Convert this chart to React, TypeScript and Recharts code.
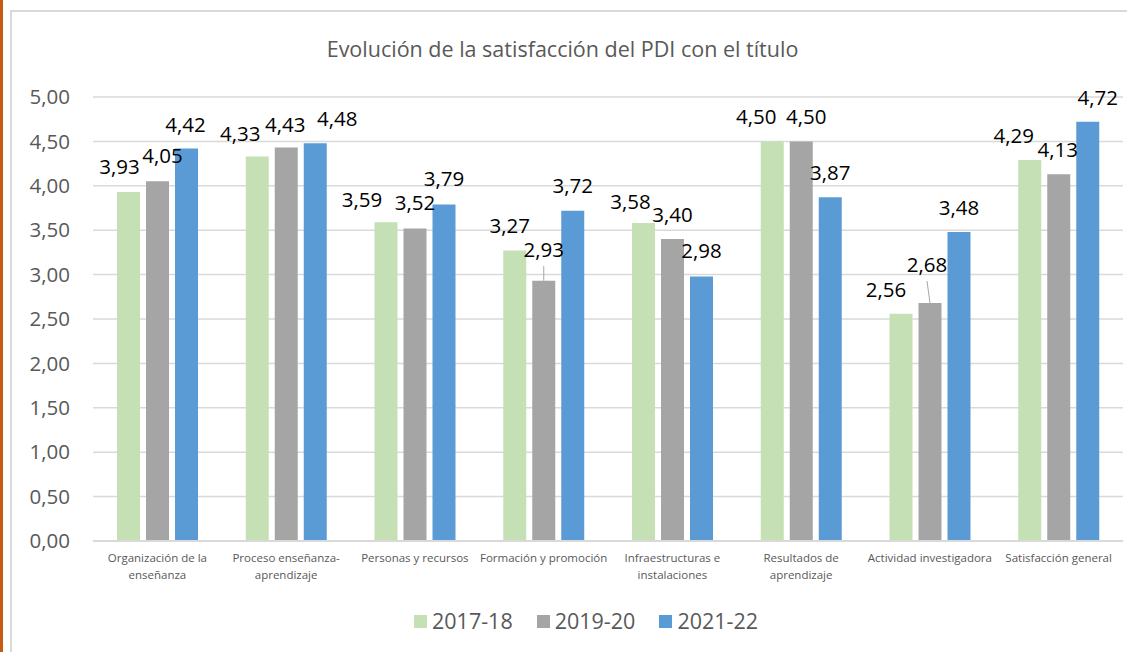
import { Bar, BarChart, XAxis, YAxis, CartesianGrid, Legend, LabelList } from 'recharts'

// categories and values
const categories = [
  'Organización de la\nenseñanza',
  'Proceso enseñanza-\naprendizaje',
  'Personas y recursos',
  'Formación y promoción',
  'Infraestructuras e\ninstalaciones',
  'Resultados de\naprendizaje',
  'Actividad investigadora',
  'Satisfacción general',
]
const values2017 = [3.93, 4.33, 3.59, 3.27, 3.58, 4.5, 2.56, 4.29]
const values2019 = [4.05, 4.43, 3.52, 2.93, 3.4, 4.5, 2.68, 4.13]
const values2021 = [4.42, 4.48, 3.79, 3.72, 2.98, 3.87, 3.48, 4.72]
const yTicks = [0, 0.5, 1, 1.5, 2, 2.5, 3, 3.5, 4, 4.5, 5]

// label nudges (dx, dy) as Excel placed them to avoid overlaps
const shift2017 = [[-9, -1], [-17, 2], [-24, 2], [-5, -1], [-13, 3], [-16, 0], [-15, 0], [-16, 0]]
const shift2019 = [[5, -1], [-1, 1], [0, -1], [0, -7], [0, 0], [5, 0], [-3, -14], [-1, 0]]
const shift2021 = [[-1, 0], [22, 0], [0, -1], [0, -1], [0, -1], [0, 0], [0, 0], [10, 0]]

const series = [
  { key: 'y2017', name: '2017-18', color: '#C5E0B4', shifts: shift2017 },
  { key: 'y2019', name: '2019-20', color: '#A5A5A5', shifts: shift2019 },
  { key: 'y2021', name: '2021-22', color: '#5B9BD5', shifts: shift2021 },
]

const data = categories.map((c, i) => ({
  category: c,
  y2017: values2017[i],
  y2019: values2019[i],
  y2021: values2021[i],
}))

const FONT = '"Open Sans", sans-serif'
const fmt = (v: number) => v.toFixed(2).replace('.', ',')

const makeLabel = (shifts: number[][]) => (props: any) => {
  const { x, y, width, value, index } = props
  const [dx, dy] = shifts[index] || [0, 0]
  const cx = x + width / 2
  const cy = y - 25 + dy
  return (
    <g>
      {dy < -5 && (
        <line x1={cx + dx} y1={cy + 17} x2={cx} y2={y} stroke="#A6A6A6" strokeWidth={1} />
      )}
      <text x={cx + dx} y={cy} textAnchor="middle" dominantBaseline="central"
        fontFamily={FONT} fontSize={20.5} fill="#000">
        {fmt(value)}
      </text>
    </g>
  )
}

const CategoryTick = (props: any) => {
  const { x, y, payload } = props
  const lines = String(payload.value).split('\n')
  return (
    <text x={x} y={y} textAnchor="middle" fontFamily={FONT} fontSize={11.5} fill="#595959">
      {lines.map((l, i) => (
        <tspan key={i} x={x} dy={i === 0 ? 21 : 17}>{l}</tspan>
      ))}
    </text>
  )
}

const LegendBox = () => (
  <div style={{ display: 'flex', justifyContent: 'flex-start', alignItems: 'center', paddingLeft: 414 }}>
    {series.map((s) => (
      <div key={s.key} style={{ display: 'flex', alignItems: 'center', marginRight: 24 }}>
        <span style={{ width: 13, height: 13, background: s.color, marginRight: 5, display: 'inline-block' }} />
        <span style={{ fontFamily: FONT, fontSize: 21.5, color: '#595959', lineHeight: '26px' }}>{s.name}</span>
      </div>
    ))}
  </div>
)

export default function App() {
  return (
    <div style={{ position: 'absolute', left: 0, top: 0, width: 1127, height: 652, overflow: 'hidden', background: '#fff' }}>
      <div style={{ position: 'absolute', left: 0, top: 0, width: 3, height: 652, background: '#C55A11' }} />
      <div style={{ position: 'absolute', left: 10, top: 10, width: 1140, height: 700, border: '2px solid #D9D9D9', boxSizing: 'border-box' }} />
      <div style={{ position: 'absolute', left: 0, top: 34, width: 1127, textAlign: 'center', fontFamily: FONT, fontSize: 21.5, lineHeight: '30px', color: '#595959' }}>
        <span style={{ position: 'relative', left: -1 }}>Evolución de la satisfacción del PDI con el título</span>
      </div>
      <div style={{ position: 'absolute', left: 0, top: 0 }}>
        <BarChart width={1127} height={652} data={data} margin={{ top: 97, right: 4, left: 0, bottom: 71 }}
          barSize={23} barGap={6}>
          <CartesianGrid vertical={false} stroke="#D9D9D9" strokeWidth={1.5} />
          <XAxis dataKey="category" axisLine={{ stroke: '#D9D9D9', strokeWidth: 2 }} tickLine={false}
            tickSize={0} tickMargin={0} height={40} interval={0} tick={<CategoryTick />} />
          <YAxis domain={[0, 5]} ticks={yTicks} width={93} axisLine={false} tickLine={false}
            tickSize={0} tickMargin={23} tickFormatter={fmt}
            tick={{ fontFamily: FONT, fontSize: 20.5, fill: '#595959' }} />
          <Legend verticalAlign="middle" align="center" layout="horizontal" content={<LegendBox />}
            wrapperStyle={{ top: 608, left: 0, width: 1127 }} />
          {series.map((s) => (
            <Bar key={s.key} dataKey={s.key} name={s.name} fill={s.color} isAnimationActive={false}>
              <LabelList dataKey={s.key} content={makeLabel(s.shifts)} />
            </Bar>
          ))}
        </BarChart>
      </div>
    </div>
  )
}
